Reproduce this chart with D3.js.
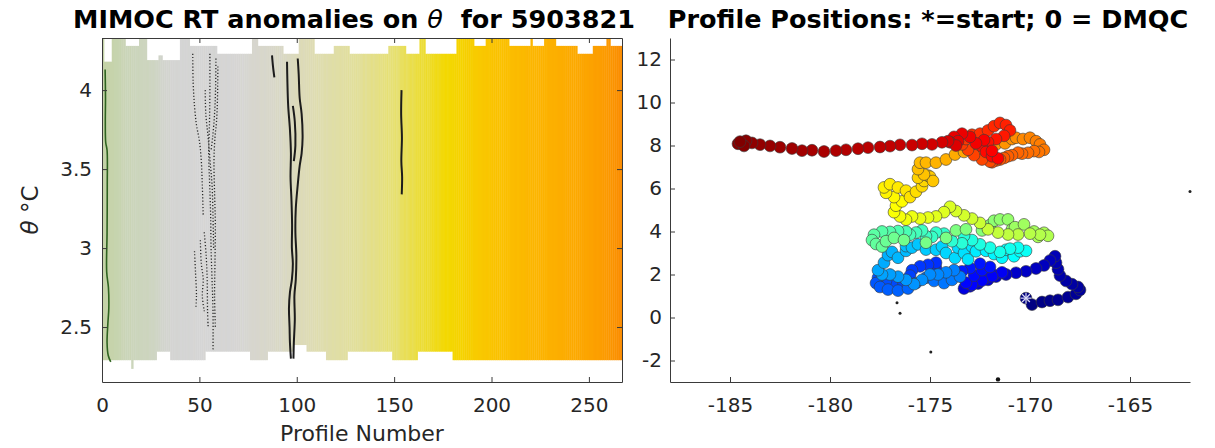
<!DOCTYPE html>
<html><head><meta charset="utf-8">
<script src="https://cdn.jsdelivr.net/npm/d3@7"></script>
<style>
body{margin:0;background:#fff}
svg{display:block}
text{font-family:"DejaVu Sans",sans-serif}
</style>
</head><body>
<svg id="c" width="1215" height="448"></svg>
<script>
// ---------------- DATA ----------------
// Left panel: anomaly value per profile (colour), theta extent runs
const profileCount = 267;
const xTicksLeft = [0, 50, 100, 150, 200, 250];
const yTicksLeft = [2.5, 3, 3.5, 4];
const anomaly = [
 -0.22,-0.22,-0.21,-0.21,-0.20,-0.20,-0.19,-0.19,-0.18,-0.18,
 -0.15,-0.15,-0.14,-0.14,-0.15,-0.13,-0.13,-0.12,-0.13,-0.12,
 -0.12,-0.11,-0.11,-0.12,-0.10,-0.09,-0.10,-0.08,-0.08,-0.07,
 -0.05,-0.05,-0.04,-0.03,-0.04,-0.02,-0.02,-0.01,-0.02,-0.01,
 0.00,-0.01,0.00,0.00,-0.01,0.00,0.00,0.01,0.00,0.00,
 0.00,0.00,0.01,0.00,0.00,0.00,0.00,-0.01,0.00,0.00,
 0.00,0.01,0.00,0.01,0.00,0.00,0.01,0.00,0.01,0.01,
 0.01,0.02,0.01,0.02,0.02,0.03,0.03,0.04,0.03,0.04,
 0.04,0.05,0.05,0.04,0.05,0.06,0.05,0.06,0.06,0.07,
 0.07,0.06,0.07,0.08,0.07,0.08,0.08,0.09,0.09,0.10,
 0.10,0.10,0.11,0.10,0.11,0.11,0.12,0.11,0.12,0.12,
 0.13,0.12,0.13,0.13,0.14,0.13,0.14,0.14,0.15,0.14,
 0.15,0.15,0.16,0.15,0.16,0.16,0.17,0.16,0.17,0.17,
 0.18,0.17,0.18,0.18,0.19,0.18,0.19,0.19,0.20,0.19,
 0.20,0.20,0.21,0.20,0.21,0.21,0.22,0.21,0.22,0.22,
 0.23,0.22,0.23,0.24,0.24,0.25,0.24,0.25,0.26,0.25,
 0.26,0.27,0.27,0.28,0.27,0.28,0.29,0.28,0.29,0.30,
 0.30,0.31,0.30,0.31,0.32,0.32,0.33,0.32,0.33,0.34,
 0.34,0.35,0.35,0.36,0.35,0.36,0.37,0.37,0.38,0.37,
 0.38,0.39,0.39,0.40,0.40,0.41,0.41,0.42,0.41,0.42,
 0.43,0.43,0.44,0.44,0.43,0.45,0.45,0.46,0.45,0.46,
 0.47,0.47,0.48,0.47,0.48,0.49,0.48,0.49,0.50,0.49,
 0.50,0.51,0.50,0.51,0.52,0.52,0.53,0.52,0.53,0.54,
 0.54,0.55,0.54,0.55,0.56,0.56,0.57,0.56,0.57,0.58,
 0.58,0.59,0.58,0.59,0.60,0.60,0.61,0.62,0.61,0.62,
 0.63,0.63,0.64,0.65,0.64,0.65,0.66,0.67,0.67,0.68,
 0.69,0.70,0.71,0.72,0.73,0.74,0.75
];
const anomStops  = [-0.22,-0.12,-0.03,0,0.06,0.12,0.18,0.23,0.28,0.33,0.40,0.50,0.62,0.75];
const anomColors = ['#c4d3a7','#ccd5bd','#d3d4d0','#d5d5d5','#d8d7c9','#dedcb2','#e2df98','#e7e06c','#ecdc32','#f3d800','#f9c900','#fcb600','#fca400','#fb8c00'];
// [firstProfile, endProfile, theta]
const topRuns = [[0,1,4.33],[1,5,4.18],[5,12,4.33],[12,19,4.28],[19,23,4.33],[23,29,4.19],[29,31,4.22],[31,40,4.19],
 [40,45,4.33],[45,59,4.28],[59,77,4.23],[77,80,4.33],[80,93,4.28],[93,101,4.23],[101,109,4.33],[109,119,4.23],
 [119,127,4.28],[127,147,4.23],[147,156,4.28],[156,163,4.23],[163,166,4.33],[166,182,4.23],[182,191,4.33],
 [191,197,4.28],[197,209,4.33],[209,220,4.28],[220,221,4.33],[221,227,4.28],[227,233,4.33],[233,244,4.28],
 [244,252,4.23],[252,259,4.28],[259,261,4.33],[261,267,4.28]];
const bottomRuns = [[0,28,2.29],[15,16,2.235],[28,35,2.344],[35,53,2.29],[53,76,2.344],[76,85,2.29],[85,98,2.344],
 [98,105,2.386],[105,115,2.344],[115,126,2.29],[126,149,2.344],[149,162,2.29],[162,180,2.344],[180,267,2.29]];
// contour lines [profile, theta]
const contourGreen = [[1.6,4.13],[1.8,3.95],[1.7,3.8],[1.9,3.67],[2.6,3.62],[2.7,3.4],[2.6,3.1],[2.4,2.85],[3.3,2.75],[3.5,2.62],[3.0,2.52],[2.6,2.4],[3.2,2.32],[4.5,2.28]];
const contoursDotted = [
 [[46.6,4.23],[46.8,4.05],[47.5,3.9],[48.5,3.78],[50,3.68],[51,3.55],[51.5,3.4],[52,3.2]],
 [[55.4,4.23],[55.4,4.0],[55.2,3.8],[54.8,3.6],[55.3,3.4],[55.8,3.2],[56,3.0],[56.5,2.8],[57,2.6],[57,2.35]],
 [[53,4.0],[53.3,3.85],[54.5,3.7],[55.5,3.55],[56.5,3.4],[57,3.2],[57.3,3.0]],
 [[58.5,4.2],[58.3,4.0],[57.8,3.85],[56.8,3.7],[56,3.62]],
 [[59.5,4.15],[59.3,3.95],[58.8,3.8],[58,3.7],[57.5,3.55],[57.8,3.35],[58.2,3.15],[58,2.9],[57.8,2.7],[58.2,2.5]],
 [[50.5,3.05],[51,2.9],[52,2.8],[51.5,2.7],[52.5,2.6]],
 [[47.5,2.98],[48,2.85],[48.5,2.7],[48.2,2.62]],
 [[52.5,3.1],[53.5,2.95],[54,2.8],[54.2,2.6],[54.5,2.5]]
];
const contoursSolid = [
 [[87.3,4.22],[87.8,4.15],[88.5,4.08]],
 [[95,4.18],[95.2,4.05],[95.6,3.9],[96.5,3.75],[97,3.6],[96.8,3.45],[97.3,3.3],[97.6,3.15],[97.5,3.0],[98,2.9],[97.5,2.8],[96.5,2.72],[96,2.62],[96.3,2.5],[96.5,2.4],[97,2.3]],
 [[100.5,4.2],[101,4.1],[101.5,3.95],[102.5,3.85],[103,3.7],[102.5,3.6],[101.5,3.52],[100.5,3.4],[99.5,3.25],[99.3,3.1],[99.8,2.95],[99.5,2.8],[98.8,2.7],[99,2.55],[98.5,2.4],[98.3,2.3]],
 [[98,3.9],[99,3.8],[99.3,3.65],[98.5,3.55]],
 [[153.8,4.0],[153.6,3.85],[154,3.7],[153.7,3.55],[154.1,3.45],[153.9,3.34]]
];

// Right panel: float track [lon, lat] in profile order
const lonTicks = [-185, -180, -175, -170, -165];
const latTicks = [-2, 0, 2, 4, 6, 8, 10, 12];
const track = [
 [-170.2,0.90],[-169.9,0.60],[-169.4,0.72],[-169.0,0.78],[-168.6,0.82],[-168.1,0.95],[-167.7,1.10],[-167.5,1.28],[-167.6,1.42],[-167.9,1.55],
 [-168.2,1.70],[-168.5,1.95],[-168.6,2.25],[-168.7,2.55],[-168.75,2.85],[-169.0,2.65],[-169.3,2.42],[-169.7,2.28],[-170.2,2.15],[-170.7,2.08],
 [-171.2,2.00],[-171.7,1.90],[-172.1,1.75],[-172.6,1.58],[-173.0,1.45],[-173.3,1.35],[-173.0,1.55],[-172.6,1.70],[-172.2,1.85],[-171.8,1.98],
 [-171.4,2.10],[-171.9,1.92],[-172.4,1.72],[-172.9,1.52],
 [-173.2,1.62],[-172.8,1.95],[-172.4,2.2],[-172.0,2.35],[-172.5,2.5],[-173.0,2.3],[-173.4,2.15],[-173.8,2.0],[-174.1,1.85],[-174.5,1.92],
 [-174.7,2.3],[-174.7,2.55],[-175.1,2.45],[-175.5,2.38],[-175.9,2.2],[-176.0,1.95],[-176.3,1.6],[-176.5,1.4],[-176.9,1.55],[-177.2,1.7],
 [-177.6,1.85],[-177.7,1.6],[-177.5,1.42],[-177.1,1.3],[-176.6,1.25],[-176.1,1.35],[-175.7,1.6],[-175.2,1.85],[-174.8,1.7],[-174.3,1.6],
 [-173.9,1.75],[-173.5,1.9],[-173.8,2.2],[-174.2,2.1],[-174.6,2.0],[-175.0,2.0],[-175.4,1.75],[-175.8,1.55],[-176.2,1.75],[-176.6,1.9],
 [-177.0,2.0],[-177.4,2.0],[-177.6,2.2],
 [-177.3,2.55],[-177.1,2.9],[-176.9,3.05],[-176.6,2.78],[-176.2,3.1],[-176.2,3.32],[-175.9,3.25],[-175.6,3.4],[-175.2,3.16],[-174.7,3.15],
 [-174.4,3.3],[-174.2,3.0],[-173.75,2.77],[-173.6,3.25],[-173.3,3.0],[-173.1,2.7],[-172.9,3.3],[-172.7,3.08],[-172.2,3.1],[-171.8,2.95],
 [-171.4,2.78],[-171.2,3.15],[-170.8,2.85],[-170.5,3.08],[-170.2,3.1],[-170.6,3.25],[-171.0,3.2],[-171.5,3.05],[-172.0,3.25],[-172.5,3.4],
 [-172.9,3.6],[-173.3,3.8],[-173.4,3.45],[-173.9,3.55],[-174.3,3.9],[-174.7,3.95],[-174.9,3.75],[-175.2,3.78],[-175.4,4.05],[-175.7,3.95],
 [-176.0,3.85],[-176.2,4.0],[-176.6,4.02],[-177.0,3.98],[-177.4,4.0],[-177.8,3.85],[-177.9,3.6],[-177.7,3.42],[-177.4,3.3],[-177.2,3.55],
 [-176.8,3.7],[-176.3,3.6],[-175.2,3.48],[-174.2,3.7],[-173.7,4.05],[-173.2,4.1],
 [-172.4,4.05],[-172.0,4.3],[-171.8,4.5],[-171.5,4.56],[-171.1,4.56],[-170.9,4.1],[-170.75,4.2],[-170.3,4.33],[-169.8,4.0],[-169.6,3.75],
 [-169.3,3.94],[-169.1,3.8],[-169.5,3.85],[-170.0,3.9],[-170.6,3.86],[-171.1,3.86],[-171.6,3.95],[-172.1,4.1],[-172.5,4.4],[-172.9,4.6],
 [-173.3,4.75],[-173.7,4.95],[-174.0,5.15],[-174.3,4.9],[-174.7,4.7],[-175.1,4.65],[-175.5,4.6],[-175.9,4.7],[-176.2,4.55],[-176.5,4.7],
 [-176.8,4.9],[-176.7,5.2],[-176.4,5.4],[-176.8,5.6],[-177.2,5.8],[-177.3,6.05],[-177.0,6.2],[-176.6,6.05],[-176.2,5.9],[-176.0,5.6],
 [-175.7,5.85],[-175.4,6.1],[-175.3,6.35],[-175.6,6.5],[-175.1,6.6],
 [-175.0,6.55],[-174.85,6.35],[-175.3,6.65],[-175.6,6.9],[-175.5,7.2],[-175.2,7.2],[-174.7,7.2],[-174.2,7.35],[-173.75,7.58],[-173.3,7.7],
 [-172.9,7.75],[-172.5,7.85],[-172.1,7.95],[-171.7,8.05],[-171.25,8.1],[-170.9,8.3],[-170.7,8.36],[-170.35,8.3],[-170.0,8.36],[-169.7,8.2],
 [-169.5,8.05],[-169.3,7.8],[-169.55,7.7],[-169.8,7.74],[-170.1,7.66],[-170.4,7.62],[-170.6,7.67],[-170.9,7.55],[-171.1,7.5],[-171.3,7.42],
 [-171.5,7.35],[-171.7,7.3],[-171.9,7.22],
 [-172.0,7.25],[-172.4,7.35],[-172.8,7.55],[-173.1,7.8],[-173.4,8.05],[-173.2,8.3],[-172.9,8.5],[-172.5,8.55],[-172.1,8.7],[-171.8,8.9],
 [-171.5,9.05],[-171.2,8.95],[-171.0,8.7],[-171.3,8.45],[-171.7,8.3],[-172.1,8.15],[-172.4,7.95],[-172.2,7.7],[-171.9,7.5],[-171.6,7.4],
 [-171.9,7.75],[-172.3,8.25],[-172.7,8.1],[-173.0,8.4],[-173.4,8.55],[-173.8,8.4],[-173.6,8.2],[-174.0,8.15],[-173.7,8.0],[-174.1,8.2],
 [-174.4,8.15],[-174.9,8.05],[-175.4,8.08],[-175.9,8.02],[-176.5,8.03],[-177.0,7.97],[-177.5,7.93],[-178.1,7.9],[-178.6,7.85],[-179.2,7.8],
 [-179.7,7.76],[-180.3,7.72],[-180.9,7.78],[-181.4,7.76],[-181.9,7.86],[-182.5,7.92],[-183.0,7.98],[-183.5,8.04],[-183.9,8.12],[-184.2,8.22],
 [-184.6,8.08],[-184.3,7.98],[-184.5,8.18]
];
const otherDots = [[-176.65,0.69],[-176.5,0.2],[-174.96,-1.6],[-162,5.86]];
const axisDot = [[-171.6,-2.88]];

// ---------------- DRAW ----------------
const svg = d3.select('#c');
const axisColor = '#3a3a3a', textColor = '#262626';
const fmt = d3.format('~g');
const plainFmt = d => fmt(d).replace('\u2212', '-');

function styleAxis(g, fs) {
  g.select('.domain').attr('stroke', axisColor).attr('stroke-width', 1);
  g.selectAll('.tick line').attr('stroke', axisColor);
  g.selectAll('.tick text').attr('fill', textColor).attr('font-size', fs)
    .attr('font-family', '"DejaVu Sans", sans-serif');
}

// ---- LEFT PANEL ----
const L = {x0: 102, x1: 622, y0: 38, y1: 382};
const xL = d3.scaleLinear().domain([0, 267]).range([L.x0, L.x1]);
const yL = d3.scaleLinear().domain([2.152, 4.33]).range([L.y1, L.y0]);
const colorL = d3.scaleLinear().domain(anomStops).range(anomColors).clamp(true);

const topT = new Array(profileCount), botT = new Array(profileCount);
topRuns.forEach(([a, b, t]) => { for (let i = a; i < b; i++) topT[i] = t; });
bottomRuns.forEach(([a, b, t]) => { for (let i = a; i < b; i++) botT[i] = t; });

svg.append('clipPath').attr('id', 'clipL').append('rect')
  .attr('x', L.x0).attr('y', L.y0).attr('width', L.x1 - L.x0).attr('height', L.y1 - L.y0);
const gL = svg.append('g').attr('clip-path', 'url(#clipL)');
gL.selectAll('rect.cell').data(d3.range(profileCount)).join('rect')
  .attr('class', 'cell')
  .attr('x', i => xL(i)).attr('width', i => xL(i + 1) - xL(i) + 0.4)
  .attr('y', i => yL(topT[i])).attr('height', i => yL(botT[i]) - yL(topT[i]))
  .attr('fill', i => colorL(anomaly[i]));

const lineL = d3.line().x(d => xL(d[0])).y(d => yL(d[1])).curve(d3.curveCatmullRom);
gL.append('path').attr('d', lineL(contourGreen)).attr('fill', 'none')
  .attr('stroke', '#2f6420').attr('stroke-width', 1.6);
gL.selectAll('path.dot').data(contoursDotted).join('path').attr('class', 'dot')
  .attr('d', lineL).attr('fill', 'none').attr('stroke', '#2a2a2a')
  .attr('stroke-width', 1.3).attr('stroke-dasharray', '1.2,2');
gL.selectAll('path.sol').data(contoursSolid).join('path').attr('class', 'sol')
  .attr('d', lineL).attr('fill', 'none').attr('stroke', '#1c1c1c').attr('stroke-width', 2);

// axes with box
const axBL = svg.append('g').attr('transform', `translate(0,${L.y1})`)
  .call(d3.axisBottom(xL).tickValues(xTicksLeft).tickSize(-5).tickSizeOuter(0).tickPadding(16).tickFormat(plainFmt));
styleAxis(axBL, 20);
const axTL = svg.append('g').attr('transform', `translate(0,${L.y0})`)
  .call(d3.axisTop(xL).tickValues(xTicksLeft).tickSize(-5).tickSizeOuter(0).tickFormat(''));
styleAxis(axTL, 20);
const axLL = svg.append('g').attr('transform', `translate(${L.x0},0)`)
  .call(d3.axisLeft(yL).tickValues(yTicksLeft).tickSize(-5).tickSizeOuter(0).tickPadding(10).tickFormat(plainFmt));
styleAxis(axLL, 20);
const axRL = svg.append('g').attr('transform', `translate(${L.x1},0)`)
  .call(d3.axisRight(yL).tickValues(yTicksLeft).tickSize(-5).tickSizeOuter(0).tickFormat(''));
styleAxis(axRL, 20);

svg.append('text').attr('x', (L.x0 + L.x1) / 2).attr('y', 441).attr('text-anchor', 'middle')
  .attr('font-size', 22).attr('fill', textColor).text('Profile Number');
const yl = svg.append('text').attr('transform', `translate(38,${(L.y0 + L.y1) / 2}) rotate(-90)`)
  .attr('text-anchor', 'middle').attr('font-size', 23).attr('fill', textColor);
yl.append('tspan').attr('font-style', 'italic').text('θ');
yl.append('tspan').text(' °C');

const t1 = svg.append('text').attr('x', (L.x0 + L.x1) / 2 - 8).attr('y', 28).attr('text-anchor', 'middle')
  .attr('font-size', 25.5).attr('font-weight', 'bold').attr('fill', '#000').attr('xml:space', 'preserve');
t1.append('tspan').text('MIMOC RT anomalies on ');
t1.append('tspan').attr('font-style', 'italic').attr('font-weight', 'normal').text('θ');
t1.append('tspan').text('  for 5903821');

// ---- RIGHT PANEL ----
const R = {x0: 670, x1: 1190, y0: 38, y1: 382};
const xR = d3.scaleLinear().domain([-188, -162]).range([R.x0, R.x1]);
const yR = d3.scaleLinear().domain([-3, 13]).range([R.y1, R.y0]);
const N = track.length;
const jet = t => {
  const r = Math.max(0, Math.min(1, Math.min(4 * t - 1.5, -4 * t + 4.5)));
  const g = Math.max(0, Math.min(1, Math.min(4 * t - 0.5, -4 * t + 3.5)));
  const b = Math.max(0, Math.min(1, Math.min(4 * t + 0.5, -4 * t + 2.5)));
  return d3.rgb(r * 255, g * 255, b * 255).toString();
};

const axBR = svg.append('g').attr('transform', `translate(0,${R.y1})`)
  .call(d3.axisBottom(xR).tickValues(lonTicks).tickSize(-5).tickSizeOuter(0).tickPadding(16).tickFormat(plainFmt));
styleAxis(axBR, 20);
const axLR = svg.append('g').attr('transform', `translate(${R.x0},0)`)
  .call(d3.axisLeft(yR).tickValues(latTicks).tickSize(-5).tickSizeOuter(0).tickPadding(8).tickFormat(plainFmt));
styleAxis(axLR, 20);

svg.append('g').selectAll('circle').data(track).join('circle')
  .attr('cx', d => xR(d[0])).attr('cy', d => yR(d[1])).attr('r', 5.9)
  .attr('fill', (d, i) => jet(i / (N - 1)))
  .attr('stroke', '#3a3a3a').attr('stroke-width', 0.6);

// start asterisk
const s0 = track[0], sx = xR(s0[0]), sy = yR(s0[1]), sr = 5.5;
const ast = svg.append('g').attr('stroke', '#d8d8f4').attr('stroke-width', 1.2);
[0, 45, 90, 135].forEach(a => {
  const rad = a * Math.PI / 180;
  ast.append('line').attr('x1', sx - sr * Math.cos(rad)).attr('y1', sy - sr * Math.sin(rad))
    .attr('x2', sx + sr * Math.cos(rad)).attr('y2', sy + sr * Math.sin(rad));
});

svg.append('g').selectAll('circle').data(otherDots).join('circle')
  .attr('cx', d => xR(d[0])).attr('cy', d => yR(d[1])).attr('r', 1.5).attr('fill', '#222');
svg.append('g').selectAll('circle').data(axisDot).join('circle')
  .attr('cx', d => xR(d[0])).attr('cy', d => yR(d[1])).attr('r', 2.2).attr('fill', '#111');

svg.append('text').attr('x', (R.x0 + R.x1) / 2 - 2).attr('y', 28).attr('text-anchor', 'middle')
  .attr('font-size', 25.5).attr('font-weight', 'bold').attr('fill', '#000')
  .text('Profile Positions: *=start; 0 = DMQC');
</script>
</body></html>
